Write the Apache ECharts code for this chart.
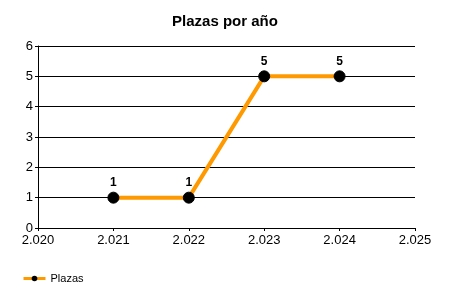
<!DOCTYPE html>
<html><head><meta charset="utf-8">
<script src="https://cdn.jsdelivr.net/npm/echarts@6/dist/echarts.min.js"></script>
<style>html,body{margin:0;padding:0;background:#fff}#c{width:450px;height:300px}</style>
</head><body><div id="c"></div>
<script>
const years = [2021, 2022, 2023, 2024];
const plazas = [1, 1, 5, 5];
const seriesName = 'Plazas';
const titleText = 'Plazas por año';

const chart = echarts.init(document.getElementById('c'), null, {renderer: 'canvas'});
const font = 'Liberation Sans, Arial, sans-serif';
chart.setOption({
  animation: false,
  backgroundColor: '#fff',
  title: {text: titleText, left: 'center', top: 9,
    textStyle: {fontFamily: font, fontSize: 15, fontWeight: 'bold', color: '#000'}},
  legend: {left: 22, top: 273, padding: 0, itemWidth: 22, itemHeight: 7, itemGap: 5,
    data: [seriesName],
    lineStyle: {width: 3},
    textStyle: {fontFamily: font, fontSize: 11, color: '#000'}},
  grid: {left: 38, right: 35, top: 46, bottom: 72, containLabel: false},
  xAxis: {type: 'value', min: 2020, max: 2025, interval: 1,
    axisLine: {lineStyle: {color: '#000', width: 1}},
    axisTick: {show: true, length: 3, lineStyle: {color: '#000'}},
    splitLine: {show: false},
    axisLabel: {fontFamily: font, fontSize: 13, color: '#000', margin: 6,
      formatter: v => { const s = String(v); return s.slice(0, 1) + '.' + s.slice(1); }}},
  yAxis: {type: 'value', min: 0, max: 6, interval: 1,
    axisLine: {show: true, lineStyle: {color: '#000', width: 1}},
    axisTick: {show: true, length: 3, lineStyle: {color: '#000'}},
    splitLine: {show: true, lineStyle: {color: '#000', width: 1}},
    axisLabel: {fontFamily: font, fontSize: 13, color: '#000', margin: 5}},
  series: [{
    name: seriesName, type: 'line',
    data: years.map((y, i) => [y, plazas[i]]),
    lineStyle: {color: '#FF9900', width: 4},
    itemStyle: {color: '#000', borderColor: '#000'},
    symbol: 'circle', symbolSize: 11,
    label: {show: true, position: 'top', distance: 3, fontFamily: font, fontSize: 12, fontWeight: 'bold', color: '#000'}
  }]
});
</script></body></html>
